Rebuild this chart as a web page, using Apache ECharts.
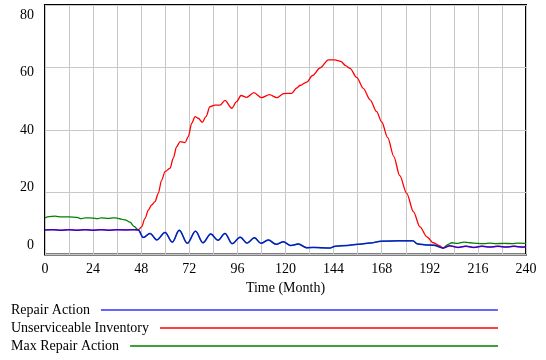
<!DOCTYPE html>
<html>
<head>
<meta charset="utf-8">
<script src="https://cdn.jsdelivr.net/npm/echarts@6/dist/echarts.min.js"></script>
<style>
  html, body { margin: 0; padding: 0; background: #fff; }
  #chart { width: 546px; height: 360px; }
</style>
</head>
<body>
<div id="chart"></div>
<script>
// Repair Action (month, units)
const repairT = [0, 4, 8, 12, 16, 20, 24, 28, 32, 36, 40, 44, 46.5,
  49, 52.4, 55.8, 59.9, 63.5, 67, 71, 75.1, 78.8, 82.7, 86.3, 89.8, 93.4, 97.4,
  100.8, 104.5, 107.8, 111.4, 115.3, 118.9, 122.6, 126.4, 130.6, 134, 138, 142,
  145, 150, 156, 162, 168, 176, 183.5, 186, 190, 194, 198.6, 202, 206, 210, 214,
  218, 222, 226, 230, 234, 238, 240];
const repairV = [7.9, 8.0, 7.8, 8.0, 7.8, 8.0, 7.8, 8.0, 7.8, 8.0, 7.9, 8.0, 7.9,
  5.5, 6.8, 4.7, 7.1, 4.0, 7.8, 3.6, 7.5, 3.8, 6.6, 4.6, 6.8, 3.5, 5.6,
  3.7, 5.4, 3.6, 4.7, 3.3, 4.1, 2.9, 3.4, 2.2, 2.3, 2.2, 2.1,
  2.7, 2.9, 3.3, 3.7, 4.3, 4.4, 4.4, 3.4, 3.1, 3.0, 2.1, 2.8, 2.3, 2.7, 2.3,
  2.7, 2.4, 2.7, 2.4, 2.7, 2.4, 2.5];

// Unserviceable Inventory while it sits above the repair rate
const inventoryT = [48.2, 49.9, 51.6, 53.2, 54.9, 56.5, 58.2, 59.9, 62.4, 64, 65.7,
  67.4, 69.9, 71.5, 73.2, 74.9, 76.5, 78.5, 80.3, 82.3, 84.8, 87.3, 89.8, 93.2,
  95.6, 97.8, 100.6, 104.2, 108.1, 112, 115.6, 119.1, 123.1, 125.6, 127.2, 130.6,
  133.5, 137.2, 141.4, 144.5, 147.6, 150, 152.2, 155.5, 158.8, 162.2, 165.5, 168,
  171, 174, 177, 180.5, 183.8, 187.1, 190.5, 193.8, 197];
const inventoryV = [8.9, 11.6, 14.3, 15.9, 17.0, 19.6, 23.9, 26.6, 27.7, 30.9, 34.6,
  36.2, 35.9, 37.8, 42.1, 44.2, 43.7, 42.4, 44.2, 47.4, 47.9, 47.9, 49.4, 46.9,
  49.0, 51.0, 50.4, 51.9, 50.3, 51.3, 50.3, 51.6, 51.7, 53.4, 54.2, 55.3,
  57.4, 59.8, 62.4, 62.4, 61.9, 60.6, 59.7, 56.8, 53.3, 49.6, 45.8, 42.5,
  37.5, 31.5, 25.3, 19.6, 13.8, 8.9, 5.7, 3.8, 2.8];

// Max Repair Action before and after it coincides with Repair Action
const maxRepairHeadT = [0, 2, 5, 8, 12, 16, 18, 20, 24, 26, 28, 32, 34, 36, 38, 40, 42.4, 44.5];
const maxRepairHeadV = [11.8, 12.2, 12.3, 12.1, 12.1, 11.9, 11.5, 11.8, 11.7, 11.5, 11.8, 11.6, 11.8, 11.7, 11.4, 11.1, 10.4, 9.0];
const maxRepairTailT = [201.2, 203, 206, 209, 212, 216, 219, 222, 225, 229, 233, 236, 240];
const maxRepairTailV = [3.3, 3.8, 3.6, 4.0, 3.8, 3.6, 3.5, 3.7, 3.5, 3.6, 3.5, 3.7, 3.6];

const xTickLabels = [0, 24, 48, 72, 96, 120, 144, 168, 192, 216, 240];
const yTickLabels = [0, 20, 40, 60, 80];

const seriesNames = ['Repair Action', 'Unserviceable Inventory', 'Max Repair Action'];
const seriesColors = ['#0000ff', '#ff0000', '#008000'];

const pairs = (ts, vs) => ts.map((t, i) => [t, vs[i]]);
const repairData = pairs(repairT, repairV);
// inventory equals the repair rate before the backlog builds and after it clears
const inventoryData = repairData.filter(p => p[0] <= 46.5)
  .concat(pairs(inventoryT, inventoryV))
  .concat(repairData.filter(p => p[0] >= 198.6));
// capacity is fully used between the two outer stretches
const maxRepairData = pairs(maxRepairHeadT, maxRepairHeadV)
  .concat(repairData.filter(p => p[0] >= 46.5 && p[0] <= 198.6))
  .concat(pairs(maxRepairTailT, maxRepairTailV));

const FONT = '"Liberation Serif", "Times New Roman", serif';
const FONT_SIZE = 14;

// legend rows: label, then a line running to a common right edge
const measure = document.createElement('canvas').getContext('2d');
measure.font = FONT_SIZE + 'px ' + FONT;
const LEGEND_LEFT = 11, LEGEND_LINE_END = 498, LEGEND_GAP = 11;
function legendRow(name, top) {
  const w = measure.measureText(name).width;
  return {
    data: [name], left: LEGEND_LEFT, top: top, padding: 0, align: 'right', selectedMode: false,
    itemWidth: Math.round(LEGEND_LINE_END - LEGEND_LEFT - w - LEGEND_GAP), itemHeight: 14,
    textStyle: { fontFamily: FONT, fontSize: FONT_SIZE, color: '#000', padding: [0, LEGEND_GAP - 5, 0, 0] },
    itemStyle: { opacity: 0 },
    lineStyle: { width: 1.3 }
  };
}

const chart = echarts.init(document.getElementById('chart'), null, { renderer: 'canvas' });
chart.setOption({
  animation: false,
  backgroundColor: '#fff',
  grid: { left: 45, top: 5, width: 481, height: 249.6, show: true, borderColor: '#000', borderWidth: 2, backgroundColor: 'transparent' },
  legend: [legendRow(seriesNames[0], 303), legendRow(seriesNames[1], 321), legendRow(seriesNames[2], 339)],
  xAxis: {
    type: 'value', min: 0, max: 240, interval: 12,
    name: 'Time (Month)', nameLocation: 'middle', nameGap: 25,
    nameTextStyle: { fontFamily: FONT, fontSize: FONT_SIZE, color: '#000' },
    axisLine: { show: false }, axisTick: { show: false },
    axisLabel: {
      fontFamily: FONT, fontSize: FONT_SIZE, color: '#000', margin: 8,
      formatter: v => (xTickLabels.includes(v) ? String(v) : '')
    },
    splitLine: { show: true, lineStyle: { color: '#c8c8c8', width: 1 } }
  },
  yAxis: [
    {
      type: 'value', min: 0, max: 80, interval: 20,
      axisLine: { show: false }, axisTick: { show: false }, axisLabel: { show: false },
      splitLine: { show: true, lineStyle: { color: '#c8c8c8', width: 1 } }
    },
    {
      // label track for the value scale, set slightly tighter than the grid
      type: 'value', min: -3.34, max: 83.48, position: 'left',
      axisLine: { show: false }, axisTick: { show: false }, splitLine: { show: false },
      axisLabel: { customValues: yTickLabels, fontFamily: FONT, fontSize: FONT_SIZE, color: '#000', margin: 11 }
    }
  ],
  series: [
    {
      name: seriesNames[2], type: 'line', data: maxRepairData, symbol: 'none',
      smooth: 0.3, smoothMonotone: 'x', z: 2,
      lineStyle: { color: seriesColors[2], width: 1.3 }, itemStyle: { color: seriesColors[2] }
    },
    {
      name: seriesNames[1], type: 'line', data: inventoryData, symbol: 'none',
      smooth: 0.3, smoothMonotone: 'x', z: 3,
      lineStyle: { color: seriesColors[1], width: 1.3 }, itemStyle: { color: seriesColors[1] }
    },
    {
      name: seriesNames[0], type: 'line', data: repairData, symbol: 'none',
      smooth: 0.4, smoothMonotone: 'x', z: 4,
      lineStyle: { color: seriesColors[0], width: 1.5, opacity: 0.8 }, itemStyle: { color: seriesColors[0] }
    }
  ]
});
</script>
</body>
</html>
